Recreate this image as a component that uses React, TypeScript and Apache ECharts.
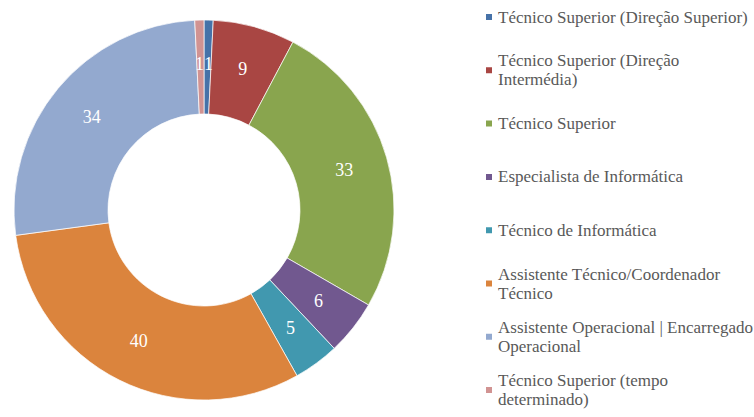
import React, { useEffect, useRef } from "react";
import * as echarts from "echarts";

const categories = [
  "Técnico Superior (Direção Superior)",
  "Técnico Superior (Direção Intermédia)",
  "Técnico Superior",
  "Especialista de Informática",
  "Técnico de Informática",
  "Assistente Técnico/Coordenador Técnico",
  "Assistente Operacional | Encarregado Operacional",
  "Técnico Superior (tempo determinado)",
];
const values = [1, 9, 33, 6, 5, 40, 34, 1];
const colors = [
  "#4672A8",
  "#A94643",
  "#89A54E",
  "#71588F",
  "#4198AF",
  "#DB843D",
  "#93A9CF",
  "#D19392",
];

const FONT_FAMILY = "'Liberation Serif', 'Times New Roman', serif";
const LEGEND_SIZE = 17;
const LINE_H = 19;
const WRAP_W = 258;

function wrapText(text: string): string[] {
  const canvas = document.createElement("canvas");
  const ctx = canvas.getContext("2d")!;
  ctx.font = `${LEGEND_SIZE}px ${FONT_FAMILY}`;
  const words = text.split(" ");
  const lines: string[] = [];
  let cur = "";
  for (const w of words) {
    const trial = cur ? cur + " " + w : w;
    if (ctx.measureText(trial).width > WRAP_W && cur) {
      lines.push(cur);
      cur = w;
    } else {
      cur = trial;
    }
  }
  if (cur) lines.push(cur);
  return lines;
}

export default function App() {
  const ref = useRef<HTMLDivElement>(null);
  useEffect(() => {
    if (!ref.current) return;
    const chart = echarts.init(ref.current, undefined, { renderer: "svg" });
    const legends = categories.map((name, i) => {
      const lines = wrapText(name);
      const n = lines.length;
      const iconCenter = 17 + 53.3 * i;
      return {
        show: true,
        orient: "vertical",
        left: 484,
        top: iconCenter - (2 * n - 1) * (LINE_H / 2),
        padding: 0,
        icon: "rect",
        itemWidth: 8,
        itemHeight: 8,
        selectedMode: false,
        data: [name],
        formatter: () => lines.join("\n"),
        textStyle: {
          fontFamily: FONT_FAMILY,
          fontSize: LEGEND_SIZE,
          color: "#595959",
          lineHeight: LINE_H,
          padding: [(n - 1) * LINE_H, 0, 0, 0],
        },
      };
    });
    const last = categories.length - 1;
    chart.setOption({
      animation: false,
      color: colors,
      legend: legends,
      series: [
        {
          type: "pie",
          center: [204, 210],
          radius: [96, 190],
          startAngle: 90,
          clockwise: true,
          avoidLabelOverlap: false,
          minShowLabelAngle: 0,
          labelLayout: { hideOverlap: false },
          itemStyle: { borderColor: "#ffffff", borderWidth: 0.7 },
          label: {
            show: true,
            position: "inside",
            color: "#ffffff",
            fontFamily: FONT_FAMILY,
            fontSize: 18,
            formatter: "{c}",
          },
          labelLine: { show: false },
          emphasis: { disabled: true },
          data: categories.map((name, i) => ({
            name,
            value: values[i],
            ...(i === 0 ? { label: { offset: [1, 0] } } : {}),
            ...(i === last ? { label: { offset: [-1, 0] } } : {}),
          })),
        },
      ],
    });
    return () => chart.dispose();
  }, []);
  return (
    <div
      ref={ref}
      style={{ position: "fixed", left: 0, top: 0, width: 754, height: 417, background: "#ffffff" }}
    />
  );
}
